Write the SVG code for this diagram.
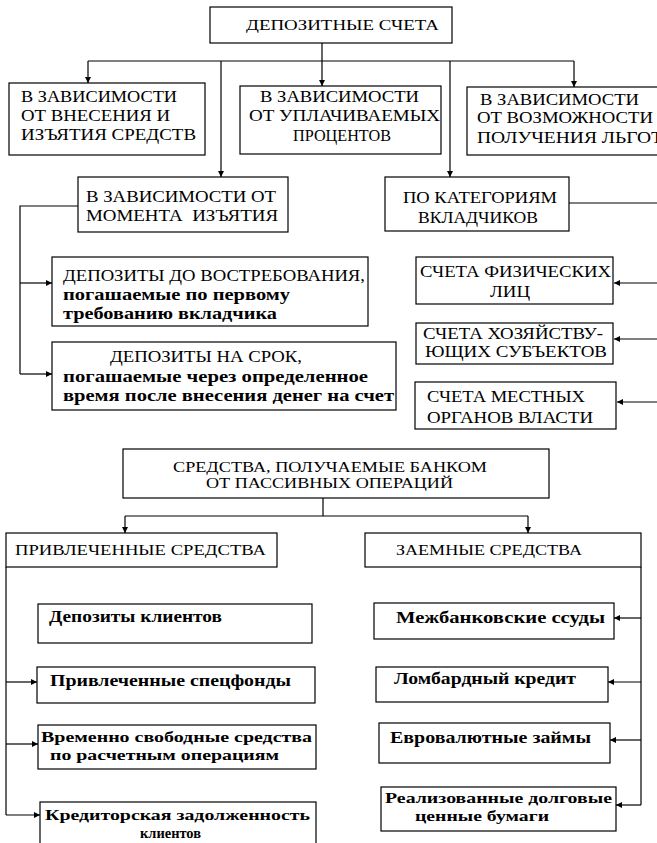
<svg xmlns="http://www.w3.org/2000/svg" width="657" height="843" viewBox="0 0 657 843">
<defs>
<marker id="ah" viewBox="0 0 10 10" refX="10" refY="5" markerWidth="7" markerHeight="6" markerUnits="userSpaceOnUse" orient="auto">
<path d="M0,0 L10,5 L0,10 z" fill="#000"/>
</marker>
<style>
rect{fill:#fff;stroke:#000;stroke-width:1.2}
.c line,.c polyline{stroke:#000;stroke-width:1.2;fill:none}
.a{marker-end:url(#ah)}
text{fill:#000;font-family:"Times New Roman","Liberation Serif",Tinos,"DejaVu Serif",serif}
.u{font-size:16px}
.s{font-size:14.5px}
.b{font-size:16px;font-weight:bold}
.b2{font-size:15px;font-weight:bold}
</style>
</defs>
<rect x="0" y="0" width="657" height="843" style="fill:#fff;stroke:none"/>
<g class="c" id="connectors">
<line x1="322" y1="43" x2="322" y2="61"/>
<line x1="88" y1="61" x2="574" y2="61"/>
<line class="a" x1="88" y1="61" x2="88" y2="83"/>
<line class="a" x1="322" y1="61" x2="322" y2="86"/>
<line class="a" x1="574" y1="61" x2="574" y2="87"/>
<line class="a" x1="221" y1="61" x2="221" y2="177"/>
<line class="a" x1="450" y1="61" x2="450" y2="177"/>
<polyline points="78,206 20,206 20,374"/>
<line class="a" x1="20" y1="283" x2="52" y2="283"/>
<line class="a" x1="20" y1="374" x2="52" y2="374"/>
<line x1="569" y1="203" x2="657" y2="203"/>
<line class="a" x1="657" y1="283" x2="614" y2="283"/>
<line class="a" x1="657" y1="339" x2="614" y2="339"/>
<line class="a" x1="657" y1="402" x2="617" y2="402"/>
<line x1="323" y1="498" x2="323" y2="516"/>
<line x1="125" y1="516" x2="528" y2="516"/>
<line class="a" x1="125" y1="516" x2="125" y2="533"/>
<line class="a" x1="528" y1="516" x2="528" y2="533"/>
<line x1="6" y1="567" x2="6" y2="815"/>
<line class="a" x1="6" y1="682" x2="37" y2="682"/>
<line class="a" x1="6" y1="744" x2="38" y2="744"/>
<line class="a" x1="6" y1="815" x2="40" y2="815"/>
<line x1="641" y1="567" x2="641" y2="805"/>
<line class="a" x1="641" y1="618" x2="614" y2="618"/>
<line class="a" x1="641" y1="682" x2="608" y2="682"/>
<line class="a" x1="641" y1="740" x2="610" y2="740"/>
<line class="a" x1="641" y1="805" x2="616" y2="805"/>
</g>
<g id="n-deposit">
<rect x="210" y="7" width="242" height="36"/>
<text x="246" y="30" font-size="15" textLength="193" lengthAdjust="spacingAndGlyphs">ДЕПОЗИТНЫЕ СЧЕТА</text>
</g>
<g id="n-vnesenie">
<rect x="9" y="83" width="196" height="72"/>
<text class="u" x="21" y="102" textLength="156" lengthAdjust="spacingAndGlyphs">В ЗАВИСИМОСТИ</text>
<text class="u" x="21" y="121" textLength="149" lengthAdjust="spacingAndGlyphs">ОТ ВНЕСЕНИЯ И</text>
<text class="u" x="21" y="140" textLength="175" lengthAdjust="spacingAndGlyphs">ИЗЪЯТИЯ СРЕДСТВ</text>
</g>
<g id="n-procent">
<rect x="240" y="86" width="201" height="68"/>
<text class="u" x="260" y="102" textLength="159" lengthAdjust="spacingAndGlyphs">В ЗАВИСИМОСТИ</text>
<text class="u" x="249" y="121" textLength="191" lengthAdjust="spacingAndGlyphs">ОТ УПЛАЧИВАЕМЫХ</text>
<text class="u" x="293" y="141" textLength="98" lengthAdjust="spacingAndGlyphs">ПРОЦЕНТОВ</text>
</g>
<g id="n-lgoty">
<rect x="467" y="87" width="200" height="68"/>
<text class="u" x="480" y="105" textLength="159" lengthAdjust="spacingAndGlyphs">В ЗАВИСИМОСТИ</text>
<text class="u" x="477" y="123" textLength="176" lengthAdjust="spacingAndGlyphs">ОТ ВОЗМОЖНОСТИ</text>
<text class="u" x="477" y="143" textLength="186" lengthAdjust="spacingAndGlyphs">ПОЛУЧЕНИЯ ЛЬГОТ</text>
</g>
<g id="n-moment">
<rect x="78" y="177" width="210" height="55"/>
<text class="u" x="86" y="202" textLength="190" lengthAdjust="spacingAndGlyphs">В ЗАВИСИМОСТИ ОТ</text>
<text class="u" x="86" y="221" textLength="192" lengthAdjust="spacingAndGlyphs" xml:space="preserve">МОМЕНТА  ИЗЪЯТИЯ</text>
</g>
<g id="n-kategorii">
<rect x="385" y="177" width="184" height="54"/>
<text class="u" x="403" y="203" textLength="154" lengthAdjust="spacingAndGlyphs">ПО КАТЕГОРИЯМ</text>
<text class="u" x="418" y="223" textLength="120" lengthAdjust="spacingAndGlyphs">ВКЛАДЧИКОВ</text>
</g>
<g id="n-dovostreb">
<rect x="52" y="257" width="316" height="69"/>
<text class="u" x="63" y="281" textLength="302" lengthAdjust="spacingAndGlyphs">ДЕПОЗИТЫ ДО ВОСТРЕБОВАНИЯ,</text>
<text class="b" x="63" y="300" textLength="227" lengthAdjust="spacingAndGlyphs">погашаемые по первому</text>
<text class="b" x="63" y="319" textLength="214" lengthAdjust="spacingAndGlyphs">требованию вкладчика</text>
</g>
<g id="n-srok">
<rect x="52" y="342" width="344" height="68"/>
<text class="u" x="110" y="362" textLength="192" lengthAdjust="spacingAndGlyphs">ДЕПОЗИТЫ НА СРОК,</text>
<text class="b" x="63" y="382" textLength="305" lengthAdjust="spacingAndGlyphs">погашаемые через определенное</text>
<text class="b" x="63" y="401" textLength="331" lengthAdjust="spacingAndGlyphs">время после внесения денег на счет</text>
</g>
<g id="n-fiz">
<rect x="416" y="257" width="197" height="47"/>
<text class="u" x="420" y="277" textLength="191" lengthAdjust="spacingAndGlyphs">СЧЕТА ФИЗИЧЕСКИХ</text>
<text class="u" x="490" y="297" textLength="40" lengthAdjust="spacingAndGlyphs">ЛИЦ</text>
</g>
<g id="n-hoz">
<rect x="416" y="323" width="197" height="41"/>
<text class="u" x="423" y="339" textLength="180" lengthAdjust="spacingAndGlyphs">СЧЕТА ХОЗЯЙСТВУ-</text>
<text class="u" x="425" y="357" textLength="182" lengthAdjust="spacingAndGlyphs">ЮЩИХ СУБЪЕКТОВ</text>
</g>
<g id="n-mest">
<rect x="415" y="382" width="201" height="47"/>
<text class="u" x="427" y="402" textLength="158" lengthAdjust="spacingAndGlyphs">СЧЕТА МЕСТНЫХ</text>
<text class="u" x="427" y="423" textLength="166" lengthAdjust="spacingAndGlyphs">ОРГАНОВ ВЛАСТИ</text>
</g>
<g id="n-sredstva">
<rect x="123" y="449" width="426" height="49"/>
<text class="s" x="173" y="472" textLength="314" lengthAdjust="spacingAndGlyphs">СРЕДСТВА, ПОЛУЧАЕМЫЕ БАНКОМ</text>
<text class="s" x="206" y="488" textLength="247" lengthAdjust="spacingAndGlyphs">ОТ ПАССИВНЫХ ОПЕРАЦИЙ</text>
</g>
<g id="n-privl">
<rect x="6" y="533" width="271" height="34"/>
<text class="s" x="15" y="555" textLength="251" lengthAdjust="spacingAndGlyphs">ПРИВЛЕЧЕННЫЕ СРЕДСТВА</text>
</g>
<g id="n-zaem">
<rect x="365" y="533" width="276" height="34"/>
<text class="s" x="396" y="555" textLength="186" lengthAdjust="spacingAndGlyphs">ЗАЕМНЫЕ СРЕДСТВА</text>
</g>
<g id="n-depklient">
<rect x="38" y="604" width="274" height="39"/>
<text class="b" x="49" y="622" textLength="173" lengthAdjust="spacingAndGlyphs">Депозиты клиентов</text>
</g>
<g id="n-specfond">
<rect x="37" y="667" width="278" height="36"/>
<text class="b" x="50" y="686" textLength="241" lengthAdjust="spacingAndGlyphs">Привлеченные спецфонды</text>
</g>
<g id="n-vremenno">
<rect x="38" y="725" width="278" height="44"/>
<text class="b2" x="41" y="742" textLength="271" lengthAdjust="spacingAndGlyphs">Временно свободные средства</text>
<text class="b2" x="50" y="760" textLength="229" lengthAdjust="spacingAndGlyphs">по расчетным операциям</text>
</g>
<g id="n-kredit">
<rect x="40" y="802" width="276" height="50"/>
<text class="b2" x="45" y="820" textLength="265" lengthAdjust="spacingAndGlyphs">Кредиторская задолженность</text>
<text class="b2" x="140" y="838" textLength="61" lengthAdjust="spacingAndGlyphs">клиентов</text>
</g>
<g id="n-mezhbank">
<rect x="374" y="603" width="240" height="36"/>
<text class="b" x="396" y="623" textLength="209" lengthAdjust="spacingAndGlyphs">Межбанковские ссуды</text>
</g>
<g id="n-lombard">
<rect x="376" y="667" width="232" height="35"/>
<text class="b" x="394" y="684" textLength="182" lengthAdjust="spacingAndGlyphs">Ломбардный кредит</text>
</g>
<g id="n-evro">
<rect x="379" y="723" width="231" height="40"/>
<text class="b" x="390" y="743" textLength="201" lengthAdjust="spacingAndGlyphs">Евровалютные займы</text>
</g>
<g id="n-realiz">
<rect x="381" y="787" width="235" height="44"/>
<text class="b2" x="385" y="803" textLength="227" lengthAdjust="spacingAndGlyphs">Реализованные долговые</text>
<text class="b2" x="415" y="821" textLength="134" lengthAdjust="spacingAndGlyphs">ценные бумаги</text>
</g>
</svg>
